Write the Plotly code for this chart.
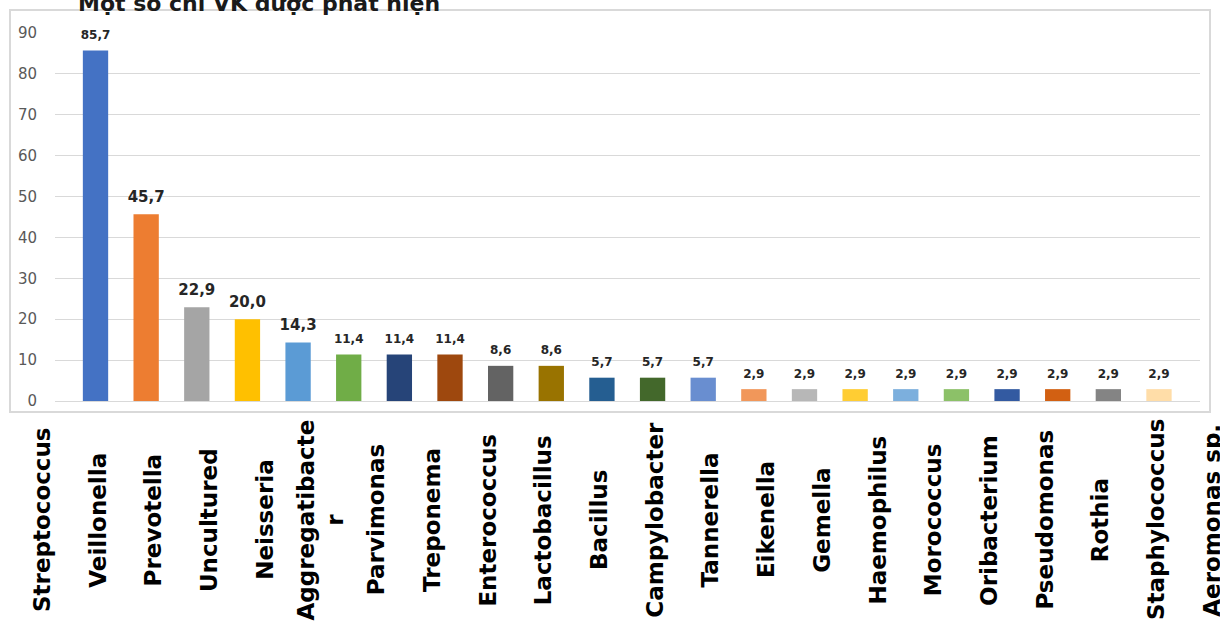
import plotly.graph_objects as go

# ---- data ----
genera = ["Streptococcus", "Veillonella", "Prevotella", "Uncultured", "Neisseria",
          "Aggregatibacte<br>r", "Parvimonas", "Treponema", "Enterococcus", "Lactobacillus",
          "Bacillus", "Campylobacter", "Tannerella", "Eikenella", "Gemella",
          "Haemophilus", "Morococcus", "Oribacterium", "Pseudomonas", "Rothia",
          "Staphylococcus", "Aeromonas sp."]
values = [85.7, 45.7, 22.9, 20.0, 14.3, 11.4, 11.4, 11.4, 8.6, 8.6, 5.7, 5.7, 5.7,
          2.9, 2.9, 2.9, 2.9, 2.9, 2.9, 2.9, 2.9, 2.9]
title_text = "Một số chi VK được phát hiện"
y_ticks = [0, 10, 20, 30, 40, 50, 60, 70, 80, 90]

# ---- styling ----
colors = ["#4472C4", "#ED7D31", "#A5A5A5", "#FFC000", "#5B9BD5", "#70AD47",
          "#264478", "#9E480E", "#636363", "#997300", "#255E91", "#43682B",
          "#698ED0", "#F1975A", "#B7B7B7", "#FFCD33", "#7CAFDD", "#8CC168",
          "#335AA1", "#D26012", "#848484", "#FFDDA8"]
label_sizes = [12 if i == 0 or i > 4 else 15 for i in range(len(values))]

W, H = 1220, 621
bar_keys = list(range(len(values)))

fig = go.Figure()
fig.add_trace(go.Bar(
    x=bar_keys, y=values,
    marker=dict(color=colors[:len(values)], line=dict(width=0)),
    width=0.5,
    xaxis="x", yaxis="y",
    hoverinfo="skip",
))
fig.add_trace(go.Scatter(
    x=bar_keys, y=values,
    mode="markers+text",
    marker=dict(size=12, opacity=0),
    text=[f"{v:.1f}".replace(".", ",") for v in values],
    textposition="top center",
    textfont=dict(family="DejaVu Sans", size=label_sizes, color="#262626", weight="bold"),
    cliponaxis=False,
    xaxis="x", yaxis="y",
    hoverinfo="skip",
    showlegend=False,
))

annotations = []
for i, g in enumerate(genera):
    annotations.append(dict(
        x=i, xref="x2", y=1 - 520 / H, yref="paper",
        text=g, textangle=-90, showarrow=False,
        xanchor="center", yanchor="middle", align="center",
        font=dict(family="DejaVu Sans", size=23, color="#000000", weight="bold"),
    ))
annotations.append(dict(
    x=259 / W, xref="paper", y=1 - 18 / H, yref="paper",
    text=title_text, showarrow=False, xanchor="center", yanchor="bottom",
    font=dict(family="DejaVu Sans", size=22, color="#1a1a1a", weight="bold"),
))

fig.update_layout(
    width=W, height=H,
    margin=dict(l=0, r=0, t=0, b=0, pad=0, autoexpand=False),
    paper_bgcolor="white", plot_bgcolor="rgba(0,0,0,0)",
    showlegend=False,
    bargap=0.5,
    xaxis=dict(domain=[55 / W, 1200 / W], range=[-0.8, 21.81], showticklabels=False,
               showgrid=False, zeroline=False, showline=False, ticks="", anchor="y"),
    xaxis2=dict(domain=[0, 1], range=[-42 / 55.7, -42 / 55.7 + W / 55.7], visible=False,
                anchor="y2"),
    yaxis2=dict(domain=[0, 0.25], range=[0, 1], visible=False, anchor="x2"),
    yaxis=dict(domain=[1 - 401 / H, 1 - 33 / H], range=[0, 90], tickvals=y_ticks,
               showgrid=True, gridcolor="#D9D9D9", gridwidth=1,
               zeroline=True, zerolinecolor="#D9D9D9", zerolinewidth=1,
               showline=False, ticks="", ticklabelstandoff=17, automargin=False,
               tickfont=dict(family="DejaVu Sans", size=15, color="#595959"), anchor="x"),
    annotations=annotations,
    shapes=[dict(type="rect", xref="paper", yref="paper",
                 x0=10 / W, x1=1210 / W, y0=1 - 412 / H, y1=1 - 10 / H,
                 line=dict(color="#D9D9D9", width=2), fillcolor="rgba(0,0,0,0)", layer="below")],
)

fig.write_html("out.html")
